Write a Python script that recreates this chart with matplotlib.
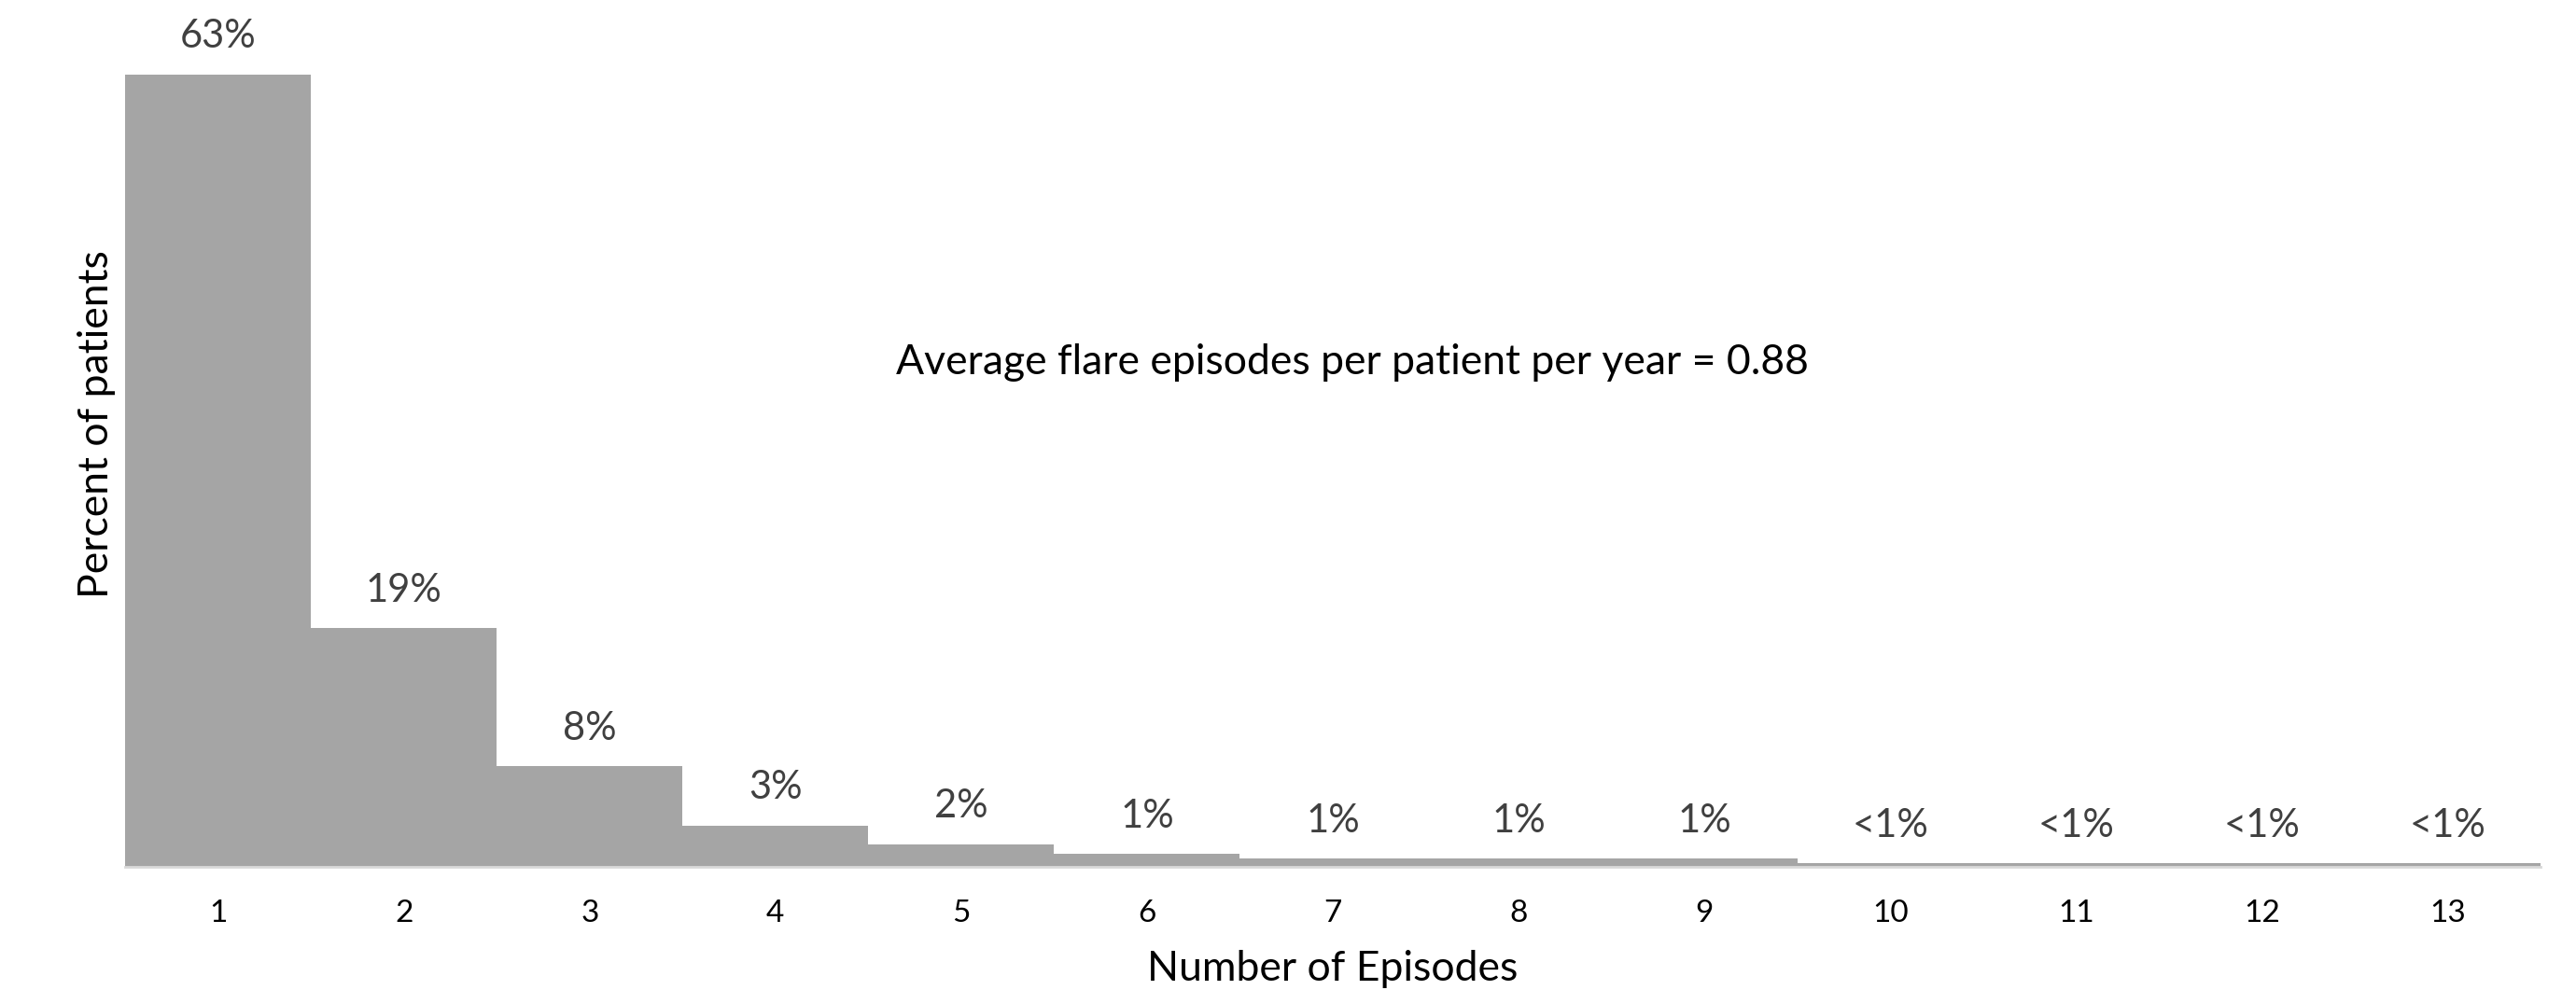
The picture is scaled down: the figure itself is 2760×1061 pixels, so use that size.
import matplotlib.pyplot as plt

# flare episodes per patient, share of patients (%)
episodes = [1, 2, 3, 4, 5, 6, 7, 8, 9, 10, 11, 12, 13]
percent = [63, 19, 8, 3.3, 1.8, 1.05, 0.65, 0.65, 0.65, 0.3, 0.3, 0.3, 0.3]
bar_labels = ['63%', '19%', '8%', '3%', '2%', '1%', '1%', '1%', '1%',
              '<1%', '<1%', '<1%', '<1%']
note = 'Average flare episodes per patient per year = 0.88'

plt.rcParams['font.family'] = ['Lato', 'DejaVu Sans']

fig = plt.figure(figsize=(27.6, 10.61), dpi=100)
ax = fig.add_axes([0.0486, 0.1244, 0.9376, 0.8386])

ax.bar(episodes, percent, width=1.0, color='#a5a5a5', edgecolor='none')
for x, h, lab in zip(episodes, percent, bar_labels):
    ax.annotate(lab, (x, h), xytext=(0, 29), textcoords='offset points',
                ha='center', va='center', fontsize=30, color='#404040')

ax.set_xlim(0.5, 13.5)
ax.set_ylim(0, 66)
ax.set_xticks(episodes)
ax.set_xticklabels([str(e) for e in episodes])
ax.set_yticks([])
ax.tick_params(axis='x', length=0, pad=25, labelsize=24, labelcolor='#000000')

for s in ['top', 'right', 'left']:
    ax.spines[s].set_visible(False)
ax.spines['bottom'].set_color('#d9d9d9')
ax.spines['bottom'].set_linewidth(2)

ax.set_xlabel('Number of Episodes', fontsize=32)
ax.set_ylabel('Percent of patients', fontsize=32)
ax.xaxis.set_label_coords(0.5, -0.1)
ax.yaxis.set_label_coords(-0.004, 0.533)

ax.text(0.508, 40.1, note, transform=ax.get_yaxis_transform(),
        ha='center', va='center', fontsize=32, color='#000000')

fig.savefig('out.png', dpi=100)
